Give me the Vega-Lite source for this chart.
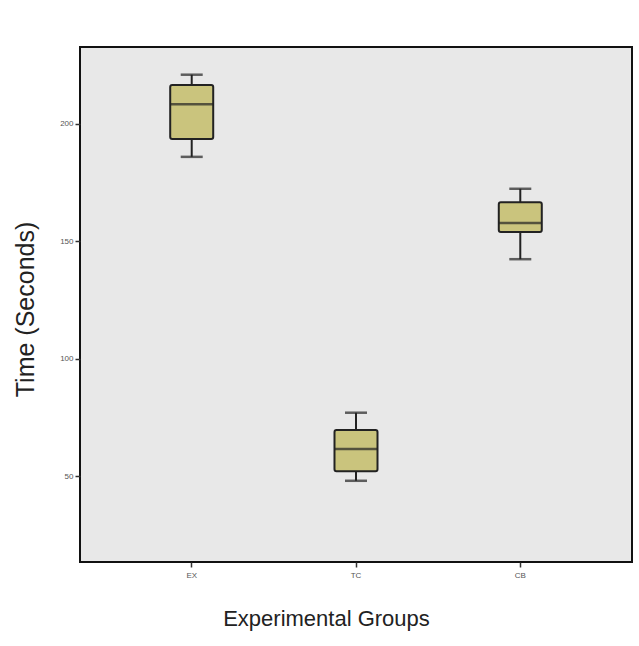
{
  "$schema": "https://vega.github.io/schema/vega-lite/v6.json",
  "width": 552,
  "height": 515,
  "autosize": "none",
  "padding": {"left": 80, "top": 47, "right": 7, "bottom": 84},
  "background": "white",
  "config": {
    "view": {"fill": "#e8e8e8", "stroke": "#111", "strokeWidth": 2},
    "font": "Liberation Sans"
  },
  "data": {
    "values": [
      {"group": "EX", "min": 186, "q1": 193.6, "median": 208.4, "q3": 216.6, "max": 221},
      {"group": "TC", "min": 48, "q1": 52.1, "median": 61.5, "q3": 69.6, "max": 77},
      {"group": "CB", "min": 142.4, "q1": 154, "median": 157.8, "q3": 166.7, "max": 172.4}
    ]
  },
  "encoding": {
    "x": {
      "field": "group", "type": "nominal", "sort": ["EX", "TC", "CB"],
      "scale": {"paddingInner": 0, "paddingOuter": 0.18},
      "axis": {
        "title": "Experimental Groups", "titleFontSize": 22, "titleFontWeight": "normal", "titleColor": "#222",
        "titleX": 246, "titleY": 63, "titleBaseline": "alphabetic", "titleAlign": "center",
        "labelAngle": 0, "labelFontSize": 8, "labelColor": "#555", "labelPadding": 4,
        "tickSize": 5, "tickColor": "#333", "tickWidth": 1.5, "domain": false, "grid": false
      }
    }
  },
  "layer": [
    {
      "mark": {"type": "rule", "color": "#222", "strokeWidth": 2},
      "encoding": {
        "y": {
          "field": "min", "type": "quantitative",
          "scale": {"domain": [13.4, 232.8], "nice": false, "zero": false},
          "axis": {
            "title": "Time (Seconds)", "titleFontSize": 25, "titleFontWeight": "normal", "titleColor": "#222",
            "titleX": -55, "titleY": 262, "titleAngle": 270, "titleAlign": "center", "titleBaseline": "middle",
            "values": [50, 100, 150, 200], "labelFontSize": 8, "labelColor": "#555", "labelPadding": 2,
            "tickSize": 5, "tickColor": "#333", "tickWidth": 1.5, "domain": false, "grid": false
          }
        },
        "y2": {"field": "max"}
      }
    },
    {
      "mark": {"type": "tick", "color": "#222", "size": 22, "thickness": 2.5},
      "encoding": {"y": {"field": "min", "type": "quantitative"}}
    },
    {
      "mark": {"type": "tick", "color": "#222", "size": 22, "thickness": 2.5},
      "encoding": {"y": {"field": "max", "type": "quantitative"}}
    },
    {
      "mark": {"type": "bar", "size": 43, "fill": "#cac47d", "stroke": "#222", "strokeWidth": 2, "cornerRadius": 2},
      "encoding": {"y": {"field": "q1", "type": "quantitative"}, "y2": {"field": "q3"}}
    },
    {
      "mark": {"type": "tick", "color": "#222", "size": 43, "thickness": 2.5},
      "encoding": {"y": {"field": "median", "type": "quantitative"}}
    }
  ]
}
